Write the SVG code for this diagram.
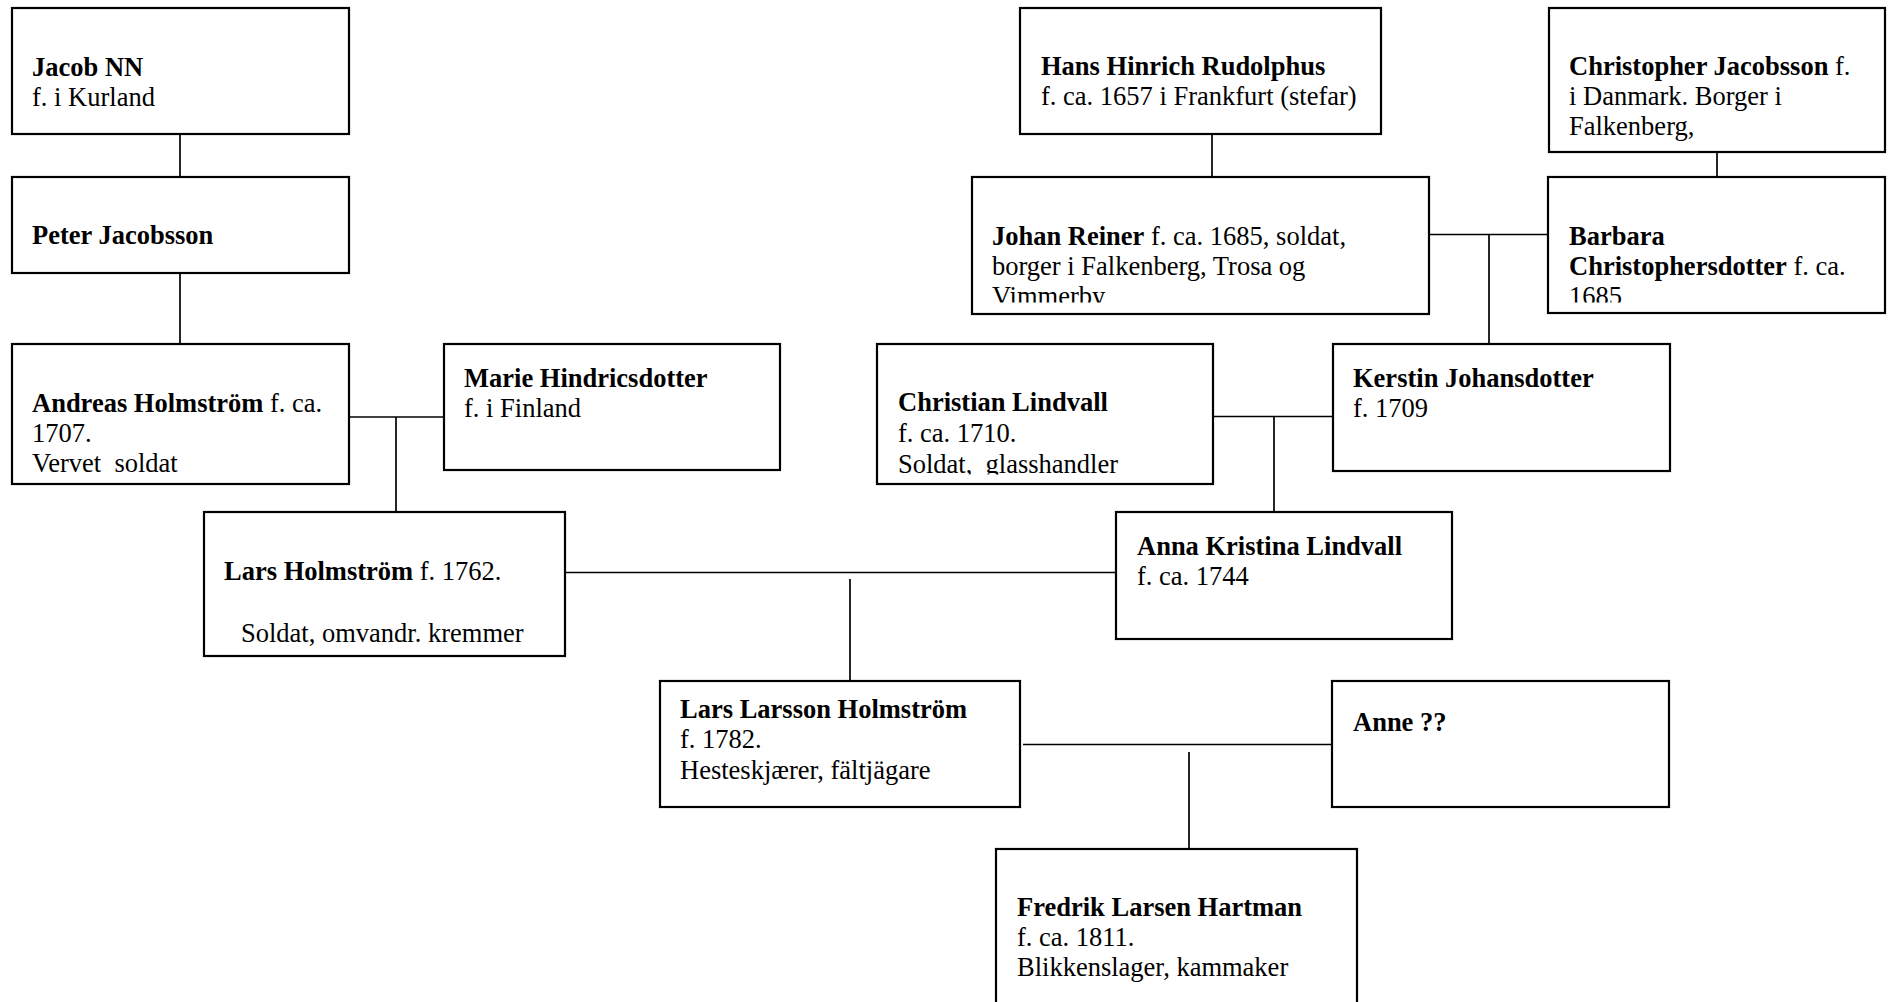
<svg xmlns="http://www.w3.org/2000/svg" width="1888" height="1002" viewBox="0 0 1888 1002">
<style>
.box{fill:#fff;stroke:#000;stroke-width:2.2}
.ln{stroke:#000;stroke-width:1.7;fill:none}
text{font-family:"Liberation Serif","Times New Roman",serif;font-size:26.5px;fill:#000}
.b{font-weight:bold}
</style>
<defs>
<clipPath id="cJohan"><rect x="972" y="177" width="457" height="125.5"/></clipPath>
<clipPath id="cBarbara"><rect x="1548" y="177" width="337" height="125.5"/></clipPath>
<clipPath id="cChristian"><rect x="877" y="344" width="336" height="130.5"/></clipPath>
</defs>
<rect width="1888" height="1002" fill="#fff"/>
<g id="connectors">
<line class="ln" x1="180" y1="134" x2="180" y2="177"/>
<line class="ln" x1="180" y1="273" x2="180" y2="344"/>
<line class="ln" x1="349" y1="417" x2="444" y2="417"/>
<line class="ln" x1="396" y1="417" x2="396" y2="512"/>
<line class="ln" x1="1212" y1="134" x2="1212" y2="177"/>
<line class="ln" x1="1717" y1="152" x2="1717" y2="177"/>
<line class="ln" x1="1425" y1="234.5" x2="1548" y2="234.5"/>
<line class="ln" x1="1489" y1="234.5" x2="1489" y2="344"/>
<line class="ln" x1="1213" y1="416.5" x2="1333" y2="416.5"/>
<line class="ln" x1="1274" y1="416.5" x2="1274" y2="512"/>
<line class="ln" x1="562" y1="572.5" x2="1116" y2="572.5"/>
<line class="ln" x1="850" y1="579" x2="850" y2="681"/>
<line class="ln" x1="1023" y1="744.5" x2="1332" y2="744.5"/>
<line class="ln" x1="1189" y1="752" x2="1189" y2="849"/>
</g>
<g id="jacob">
<rect class="box" x="12" y="8" width="337" height="126"/>
<text x="32" y="76" class="b">Jacob NN</text>
<text x="32" y="106">f. i Kurland</text>
</g>
<g id="peter">
<rect class="box" x="12" y="177" width="337" height="96"/>
<text x="32" y="244" class="b">Peter Jacobsson</text>
</g>
<g id="andreas">
<rect class="box" x="12" y="344" width="337" height="140"/>
<text x="32" y="412"><tspan class="b">Andreas Holmström</tspan> f. ca.</text>
<text x="32" y="442">1707.</text>
<text x="32" y="472" xml:space="preserve">Vervet  soldat</text>
</g>
<g id="marie">
<rect class="box" x="444" y="344" width="336" height="126"/>
<text x="464" y="387" class="b">Marie Hindricsdotter</text>
<text x="464" y="417">f. i Finland</text>
</g>
<g id="lars">
<rect class="box" x="204" y="512" width="361" height="144"/>
<text x="224" y="580"><tspan class="b">Lars Holmström</tspan> f. 1762.</text>
<text x="241" y="642">Soldat, omvandr. kremmer</text>
</g>
<g id="hans">
<rect class="box" x="1020" y="8" width="361" height="126"/>
<text x="1041" y="75" class="b">Hans Hinrich Rudolphus</text>
<text x="1041" y="105">f. ca. 1657 i Frankfurt (stefar)</text>
</g>
<g id="christopher">
<rect class="box" x="1549" y="8" width="336" height="144"/>
<text x="1569" y="75"><tspan class="b">Christopher Jacobsson</tspan> f.</text>
<text x="1569" y="105">i Danmark. Borger i</text>
<text x="1569" y="135">Falkenberg,</text>
</g>
<g id="johan">
<rect class="box" x="972" y="177" width="457" height="137"/>
<g clip-path="url(#cJohan)">
<text x="992" y="244.5"><tspan class="b">Johan Reiner</tspan> f. ca. 1685, soldat,</text>
<text x="992" y="274.5">borger i Falkenberg, Trosa og</text>
<text x="992" y="304.5">Vimmerby</text>
</g>
</g>
<g id="barbara">
<rect class="box" x="1548" y="177" width="337" height="136"/>
<g clip-path="url(#cBarbara)">
<text x="1569" y="244.5" class="b">Barbara</text>
<text x="1569" y="274.5"><tspan class="b">Christophersdotter</tspan> f. ca.</text>
<text x="1569" y="304.5">1685</text>
</g>
</g>
<g id="christian">
<rect class="box" x="877" y="344" width="336" height="140"/>
<g clip-path="url(#cChristian)">
<text x="898" y="411" class="b">Christian Lindvall</text>
<text x="898" y="442">f. ca. 1710.</text>
<text x="898" y="473" xml:space="preserve">Soldat,  glasshandler</text>
</g>
</g>
<g id="kerstin">
<rect class="box" x="1333" y="344" width="337" height="127"/>
<text x="1353" y="387" class="b">Kerstin Johansdotter</text>
<text x="1353" y="417">f. 1709</text>
</g>
<g id="anna">
<rect class="box" x="1116" y="512" width="336" height="127"/>
<text x="1137" y="555" class="b">Anna Kristina Lindvall</text>
<text x="1137" y="585">f. ca. 1744</text>
</g>
<g id="larslarsson">
<rect class="box" x="660" y="681" width="360" height="126"/>
<text x="680" y="718" class="b">Lars Larsson Holmström</text>
<text x="680" y="748">f. 1782.</text>
<text x="680" y="779">Hesteskjærer, fältjägare</text>
</g>
<g id="anne">
<rect class="box" x="1332" y="681" width="337" height="126"/>
<text x="1353" y="731" class="b">Anne ??</text>
</g>
<g id="fredrik">
<rect class="box" x="996" y="849" width="361" height="170"/>
<text x="1017" y="916" class="b">Fredrik Larsen Hartman</text>
<text x="1017" y="946">f. ca. 1811.</text>
<text x="1017" y="976">Blikkenslager, kammaker</text>
</g>
</svg>
